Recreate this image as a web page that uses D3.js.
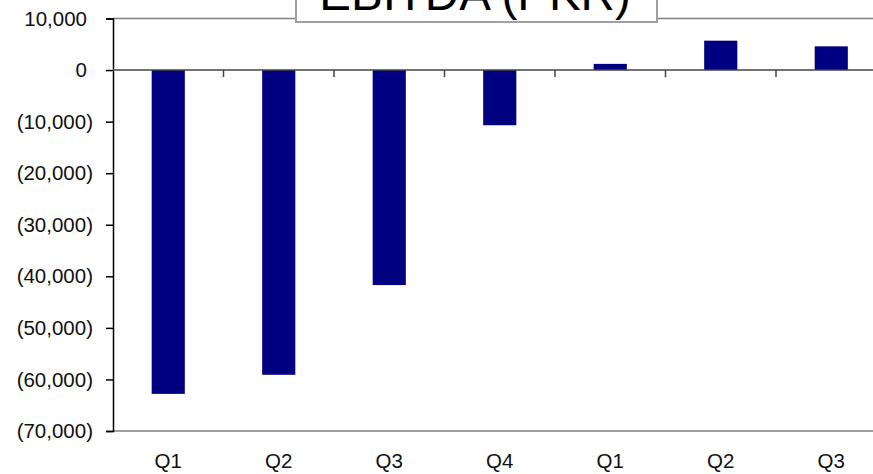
<!DOCTYPE html>
<html>
<head>
<meta charset="utf-8">
<script src="https://cdn.jsdelivr.net/npm/d3@7"></script>
<style>
  body { margin: 0; background: #fff; }
  svg { display: block; font-family: "Liberation Sans", Arial, sans-serif; }
</style>
</head>
<body>
<script>
var quarters = ['Q1', 'Q2', 'Q3', 'Q4', 'Q1', 'Q2', 'Q3'];
var ebitda = [-62800, -59100, -41700, -10700, 1200, 5700, 4600];
var yTicks = [10000, 0, -10000, -20000, -30000, -40000, -50000, -60000, -70000];
var title = 'EBITDA (PKR)';

var W = 873, H = 474;
var svg = d3.select('body').append('svg').attr('width', W).attr('height', H);

var x = d3.scaleBand()
    .domain(d3.range(quarters.length))
    .range([113, 886.5]);
var y = d3.scaleLinear()
    .domain([-70000, 10000])
    .range([431, 18.5]);

var fmt = d3.format(',');
function label(d) { return d < 0 ? '(' + fmt(-d) + ')' : fmt(d); }

// plot frame top / bottom
svg.append('line')
    .attr('x1', 113).attr('x2', W)
    .attr('y1', y(10000)).attr('y2', y(10000))
    .style('stroke', '#808080').style('stroke-width', 1.5);
svg.append('line')
    .attr('x1', 113).attr('x2', W)
    .attr('y1', y(-70000)).attr('y2', y(-70000))
    .style('stroke', '#808080').style('stroke-width', 1.5);

// bars
var bw = x.bandwidth() * 0.3;
svg.selectAll('rect.bar')
    .data(ebitda)
    .enter().append('rect')
        .attr('class', 'bar')
        .attr('x', function (d, i) { return x(i) + (x.bandwidth() - bw) / 2; })
        .attr('y', function (d) { return y(Math.max(0, d)); })
        .attr('width', bw)
        .attr('height', function (d) { return Math.abs(y(d) - y(0)); })
        .attr('fill', '#000080');

// y axis
var yAxis = svg.append('g')
    .attr('transform', 'translate(113,0)')
    .call(d3.axisLeft(y).tickValues(yTicks).tickFormat(label).tickSize(7).tickPadding(13));
yAxis.select('.domain').style('stroke', '#000').style('stroke-width', 1.5);
yAxis.selectAll('.tick line').style('stroke', '#000').style('stroke-width', 1.5);
yAxis.selectAll('text')
    .style('font-size', '20.5px')
    .style('fill', '#111')
    .style('font-family', '"Liberation Sans", Arial, sans-serif')
    // positive numbers leave room for the closing paren, like Excel's _) format
    .attr('dx', function (d) { return d >= 0 ? -6 : 0; });

// zero line with category ticks
svg.append('line')
    .attr('x1', 113).attr('x2', W)
    .attr('y1', y(0)).attr('y2', y(0))
    .style('stroke', '#444').style('stroke-width', 1.5);
svg.selectAll('line.xtick')
    .data(d3.range(1, quarters.length))
    .enter().append('line')
        .attr('class', 'xtick')
        .attr('x1', function (d) { return x(d); })
        .attr('x2', function (d) { return x(d); })
        .attr('y1', y(0)).attr('y2', y(0) + 7)
        .style('stroke', '#444').style('stroke-width', 1.5);

// category labels
svg.selectAll('text.cat')
    .data(quarters)
    .enter().append('text')
        .attr('class', 'cat')
        .attr('x', function (d, i) { return x(i) + x.bandwidth() / 2; })
        .attr('y', 468)
        .attr('text-anchor', 'middle')
        .style('font-size', '20.5px')
        .style('fill', '#111')
        .text(function (d) { return d; });

// title box (cut off at the top, as in the original)
svg.append('rect')
    .attr('x', 296).attr('y', -20)
    .attr('width', 361).attr('height', 42)
    .attr('fill', '#fff')
    .style('stroke', '#a0a0a0').style('stroke-width', 2);
svg.append('text')
    .attr('x', 475).attr('y', 10)
    .attr('text-anchor', 'middle')
    .style('font-size', '47.5px')
    .style('fill', '#000')
    .text(title);
</script>
</body>
</html>
